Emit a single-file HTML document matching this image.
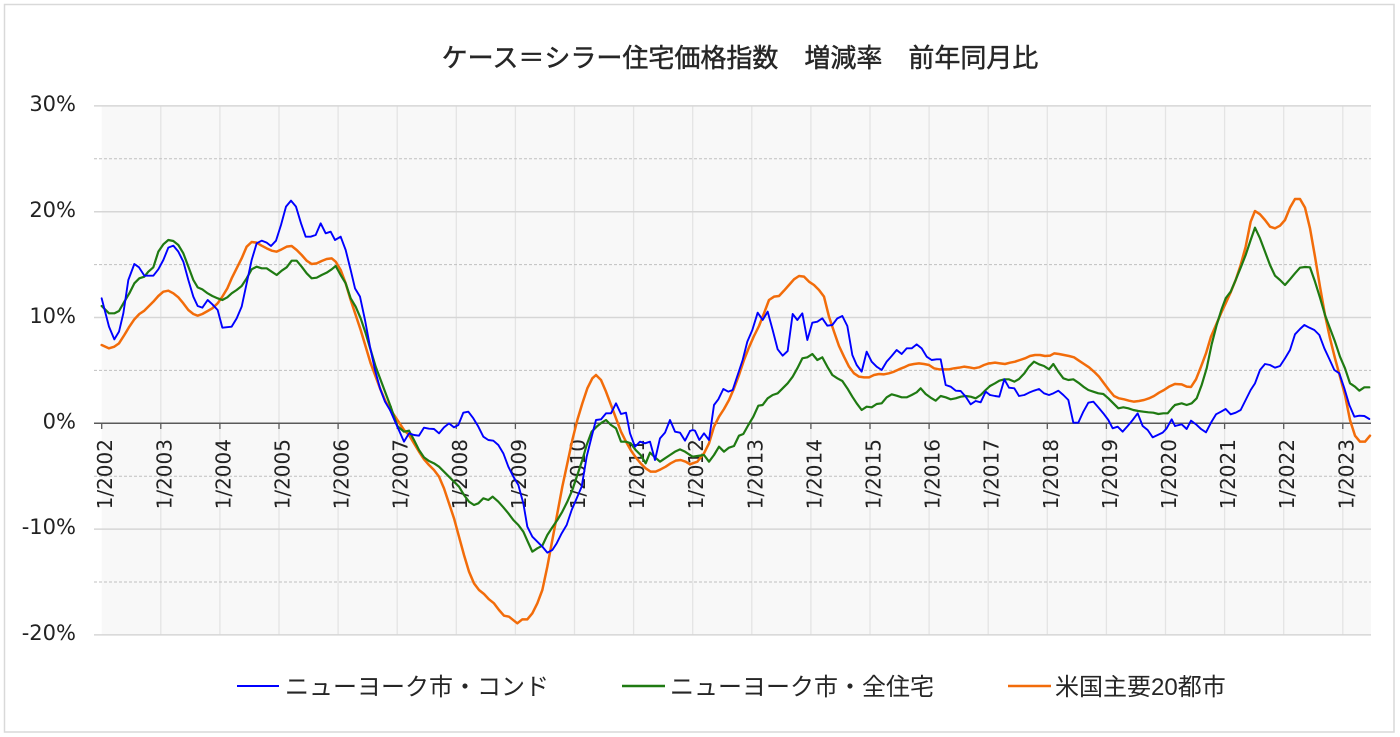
<!DOCTYPE html>
<html><head><meta charset="utf-8"><style>
html,body{margin:0;padding:0;background:#fff;}
svg{display:block;}
.ln{fill:none;stroke-linejoin:round;stroke-linecap:round;}
</style></head><body>
<svg width="1400" height="737" viewBox="0 0 1400 737" xmlns="http://www.w3.org/2000/svg">
<rect x="0" y="0" width="1400" height="737" fill="#fff"/>
<rect x="4.5" y="4.5" width="1389.5" height="727.5" fill="#fff" stroke="#d9d9d9" stroke-width="1.5"/>
<text x="740" y="67" text-anchor="middle" font-family="'Liberation Sans','Noto Sans CJK JP',sans-serif" font-size="26" fill="#262626" stroke="#262626" stroke-width="0.45">ケース＝シラー住宅価格指数　増減率　前年同月比</text>
<!-- plot area -->
<rect x="101.7" y="105.9" width="1269.3" height="529" fill="#f8f8f8"/>
<g stroke="#e4e4e4" stroke-width="1.3">
<line x1="160.8" y1="105.9" x2="160.8" y2="634.9"/><line x1="219.9" y1="105.9" x2="219.9" y2="634.9"/><line x1="279.0" y1="105.9" x2="279.0" y2="634.9"/><line x1="338.1" y1="105.9" x2="338.1" y2="634.9"/><line x1="397.2" y1="105.9" x2="397.2" y2="634.9"/><line x1="456.3" y1="105.9" x2="456.3" y2="634.9"/><line x1="515.4" y1="105.9" x2="515.4" y2="634.9"/><line x1="574.5" y1="105.9" x2="574.5" y2="634.9"/><line x1="633.6" y1="105.9" x2="633.6" y2="634.9"/><line x1="692.7" y1="105.9" x2="692.7" y2="634.9"/><line x1="751.8" y1="105.9" x2="751.8" y2="634.9"/><line x1="810.9" y1="105.9" x2="810.9" y2="634.9"/><line x1="870.0" y1="105.9" x2="870.0" y2="634.9"/><line x1="929.1" y1="105.9" x2="929.1" y2="634.9"/><line x1="988.2" y1="105.9" x2="988.2" y2="634.9"/><line x1="1047.3" y1="105.9" x2="1047.3" y2="634.9"/><line x1="1106.4" y1="105.9" x2="1106.4" y2="634.9"/><line x1="1165.5" y1="105.9" x2="1165.5" y2="634.9"/><line x1="1224.6" y1="105.9" x2="1224.6" y2="634.9"/><line x1="1283.7" y1="105.9" x2="1283.7" y2="634.9"/><line x1="1342.8" y1="105.9" x2="1342.8" y2="634.9"/>
</g>
<g stroke="#c0c0c0" stroke-width="1" stroke-dasharray="3,2">
<line x1="94" y1="158.8" x2="1371" y2="158.8"/><line x1="94" y1="264.6" x2="1371" y2="264.6"/><line x1="94" y1="370.4" x2="1371" y2="370.4"/><line x1="94" y1="476.2" x2="1371" y2="476.2"/><line x1="94" y1="582.0" x2="1371" y2="582.0"/>
</g>
<g stroke="#d6d6d6" stroke-width="1.5">
<line x1="94" y1="105.9" x2="1371" y2="105.9"/><line x1="94" y1="211.7" x2="1371" y2="211.7"/><line x1="94" y1="317.5" x2="1371" y2="317.5"/><line x1="94" y1="529.1" x2="1371" y2="529.1"/><line x1="94" y1="634.9" x2="1371" y2="634.9"/>
</g>
<line x1="94" y1="423.3" x2="1371" y2="423.3" stroke="#5a5a5a" stroke-width="1.5"/>
<g stroke="#5a5a5a" stroke-width="1.3">
<line x1="101.7" y1="423.3" x2="101.7" y2="429"/><line x1="160.8" y1="423.3" x2="160.8" y2="429"/><line x1="219.9" y1="423.3" x2="219.9" y2="429"/><line x1="279.0" y1="423.3" x2="279.0" y2="429"/><line x1="338.1" y1="423.3" x2="338.1" y2="429"/><line x1="397.2" y1="423.3" x2="397.2" y2="429"/><line x1="456.3" y1="423.3" x2="456.3" y2="429"/><line x1="515.4" y1="423.3" x2="515.4" y2="429"/><line x1="574.5" y1="423.3" x2="574.5" y2="429"/><line x1="633.6" y1="423.3" x2="633.6" y2="429"/><line x1="692.7" y1="423.3" x2="692.7" y2="429"/><line x1="751.8" y1="423.3" x2="751.8" y2="429"/><line x1="810.9" y1="423.3" x2="810.9" y2="429"/><line x1="870.0" y1="423.3" x2="870.0" y2="429"/><line x1="929.1" y1="423.3" x2="929.1" y2="429"/><line x1="988.2" y1="423.3" x2="988.2" y2="429"/><line x1="1047.3" y1="423.3" x2="1047.3" y2="429"/><line x1="1106.4" y1="423.3" x2="1106.4" y2="429"/><line x1="1165.5" y1="423.3" x2="1165.5" y2="429"/><line x1="1224.6" y1="423.3" x2="1224.6" y2="429"/><line x1="1283.7" y1="423.3" x2="1283.7" y2="429"/><line x1="1342.8" y1="423.3" x2="1342.8" y2="429"/>
</g>
<!-- y labels -->
<g font-family="'DejaVu Sans','Liberation Sans',sans-serif" font-size="21" fill="#222" text-anchor="end">
<text x="76" y="111">30%</text><text x="76" y="217">20%</text><text x="76" y="323">10%</text><text x="76" y="428.5">0%</text><text x="76" y="534">-10%</text><text x="76" y="640">-20%</text>
</g>
<!-- x labels -->
<g font-family="'DejaVu Sans','Liberation Sans',sans-serif" font-size="20" fill="#222" text-anchor="end">
<text transform="translate(112.2,439) rotate(-90)">1/2002</text>
<text transform="translate(171.3,439) rotate(-90)">1/2003</text>
<text transform="translate(230.4,439) rotate(-90)">1/2004</text>
<text transform="translate(289.5,439) rotate(-90)">1/2005</text>
<text transform="translate(348.6,439) rotate(-90)">1/2006</text>
<text transform="translate(407.7,439) rotate(-90)">1/2007</text>
<text transform="translate(466.8,439) rotate(-90)">1/2008</text>
<text transform="translate(525.9,439) rotate(-90)">1/2009</text>
<text transform="translate(585.0,439) rotate(-90)">1/2010</text>
<text transform="translate(644.1,439) rotate(-90)">1/2011</text>
<text transform="translate(703.2,439) rotate(-90)">1/2012</text>
<text transform="translate(762.3,439) rotate(-90)">1/2013</text>
<text transform="translate(821.4,439) rotate(-90)">1/2014</text>
<text transform="translate(880.5,439) rotate(-90)">1/2015</text>
<text transform="translate(939.6,439) rotate(-90)">1/2016</text>
<text transform="translate(998.7,439) rotate(-90)">1/2017</text>
<text transform="translate(1057.8,439) rotate(-90)">1/2018</text>
<text transform="translate(1116.9,439) rotate(-90)">1/2019</text>
<text transform="translate(1176.0,439) rotate(-90)">1/2020</text>
<text transform="translate(1235.1,439) rotate(-90)">1/2021</text>
<text transform="translate(1294.2,439) rotate(-90)">1/2022</text>
<text transform="translate(1353.3,439) rotate(-90)">1/2023</text>
</g>

<!-- ORANGE -->
<g class="ln" stroke="#f26c0a" stroke-width="2.5">
<g transform="translate(95,180) scale(0.333333)"><polyline class="ln" vector-effect="non-scaling-stroke" points="20,495 42,505 58,500 72,490 88,465 103,440 118,418 133,402 148,392 160,380 175,365 190,348 205,335 220,332 235,340 250,352 265,370 280,390 295,402 308,407 322,402 338,393 352,385 368,370 382,350 397,325 410,295 425,265 440,235 455,200 470,186 485,188 500,197 515,205 530,212 545,215 560,208 575,200 590,198 605,210 620,225 635,242 650,252 665,250 680,243 695,237 710,235 722,245 737,270 752,310 767,360 782,405 797,450 812,500 827,550 842,590 857,630 872,665 887,690"/></g>
<g transform="translate(390,370) scale(0.333333)"><polyline class="ln" vector-effect="non-scaling-stroke" points="2,120 22,150 42,180 57,195 72,220 87,245 102,268 117,285 132,300 147,320 162,355 177,400 192,445 207,500 222,555 237,605 252,640 267,660 282,672 297,688 312,700 327,720 342,737 357,740 372,752 382,760 397,748 412,748 427,730 442,700 457,660 472,590 487,510 502,430 517,350 532,280 547,210 562,150 577,100 592,55 607,25 618,15 633,30 648,65 663,105 678,145 693,185 708,215 722,240 737,262 752,280 767,295 782,305 797,305 812,298 827,290 842,280 857,272 872,270 887,275 900,283"/></g>
<g transform="translate(690,260) scale(0.333333)"><polyline class="ln" vector-effect="non-scaling-stroke" points="0,613 8,610 22,605 42,580 57,550 72,500 87,470 102,447 117,420 132,385 147,345 162,300 177,262 192,228 207,198 222,160 237,120 252,110 267,108 282,92 297,75 312,58 327,48 342,50 357,65 372,75 387,90 402,110 417,170 432,215 447,258 462,290 477,320 492,340 507,350 522,352 537,352 552,345 567,342 582,343 597,340 612,335 627,328 642,322 657,315 672,312 687,310 702,312 717,315 732,325 747,328 762,328 777,328 792,325 807,323 822,320 837,322 852,325 867,322 882,315 897,310 900,310"/></g>
<g transform="translate(985,320) scale(0.333333)"><polyline class="ln" vector-effect="non-scaling-stroke" points="15,130 30,128 45,130 60,132 75,128 90,125 105,120 120,115 135,108 150,105 165,105 180,108 195,107 208,100 222,102 237,105 252,108 267,112 282,122 297,132 312,142 327,155 342,170 357,190 372,210 387,228 402,235 417,238 432,242 447,245 462,243 477,240 492,235 507,228 522,218 537,210 552,200 567,193 570,192"/></g>
<g transform="translate(1175,185) scale(0.333333)"><polyline class="ln" vector-effect="non-scaling-stroke" points="0,597 20,598 35,605 48,606 63,583 78,545 93,505 108,455 123,420 138,385 152,355 167,322 182,285 197,240 212,185 227,110 240,78 255,88 270,105 285,125 300,130 315,122 330,105 345,68 360,42 375,42 390,68 405,130 420,215 435,305 450,390 465,460 480,520 495,575 510,630 525,705 540,752 555,770 570,770 585,752"/></g>
</g>

<!-- GREEN -->
<g class="ln" stroke="#1f7a12" stroke-width="2.2">
<g transform="translate(95,180) scale(0.333333)"><polyline class="ln" vector-effect="non-scaling-stroke" points="20,378 42,400 58,400 72,393 88,365 103,340 118,310 133,295 148,290 160,275 175,262 190,215 205,193 220,180 235,183 250,195 265,220 280,260 295,300 308,322 322,328 338,340 352,348 368,355 382,360 397,352 410,340 425,330 440,318 455,295 470,268 485,260 500,265 515,265 530,275 545,285 560,272 575,262 590,242 605,242 620,260 635,280 650,295 665,293 680,285 695,278 710,268 722,258 737,285 752,310 767,355 782,380 797,415 812,460 827,510 842,560 857,600 872,640 887,680"/></g>
<g transform="translate(390,370) scale(0.333333)"><polyline class="ln" vector-effect="non-scaling-stroke" points="2,110 22,168 42,185 57,182 72,210 87,240 102,262 117,273 132,280 147,290 162,305 177,320 192,335 207,350 222,375 237,395 252,405 265,400 280,385 295,390 308,380 325,395 340,412 355,430 370,450 385,465 400,485 412,512 427,545 442,535 457,527 472,495 487,472 502,450 517,425 532,395 547,360 562,315 577,270 590,225 605,185 620,170 635,158 648,150 663,165 678,175 693,215 708,215 722,220 737,240 752,255 767,280 780,248 795,262 810,275 825,265 840,255 855,245 870,238 885,245 900,255"/></g>
<g transform="translate(690,260) scale(0.333333)"><polyline class="ln" vector-effect="non-scaling-stroke" points="0,585 8,590 22,588 42,585 57,605 72,585 87,560 102,575 117,563 132,558 147,527 160,522 175,495 190,470 205,437 218,435 233,415 248,405 263,400 278,385 293,370 308,350 322,325 337,295 352,292 367,282 382,300 397,292 412,320 427,345 442,355 457,363 472,385 487,410 500,430 515,450 530,440 545,442 560,432 575,430 590,412 605,403 620,407 635,412 650,412 665,405 680,397 692,385 707,402 722,413 737,422 752,408 767,412 782,418 797,415 812,410 827,408 842,410 857,415 872,405 887,390 900,378"/></g>
<g transform="translate(985,320) scale(0.333333)"><polyline class="ln" vector-effect="non-scaling-stroke" points="15,198 30,190 43,182 58,178 72,178 88,185 102,177 118,160 132,140 147,125 162,133 177,138 192,148 205,132 220,155 235,175 250,180 265,178 280,188 295,200 310,210 325,215 340,220 355,222 370,235 385,250 400,265 415,262 430,265 445,270 460,273 475,275 490,277 505,278 520,282 535,280 548,280 563,262 570,255"/></g>
<g transform="translate(1175,185) scale(0.333333)"><polyline class="ln" vector-effect="non-scaling-stroke" points="0,660 20,655 35,660 50,655 65,640 80,600 95,550 110,478 125,420 140,372 152,340 167,320 182,285 197,248 212,210 227,165 240,128 255,160 270,200 285,240 300,272 315,285 330,300 345,283 360,265 375,248 390,246 405,247 420,290 435,338 450,390 465,430 480,470 495,515 510,550 525,595 540,605 553,617 568,607 583,607"/></g>
</g>

<!-- BLUE -->
<g class="ln" stroke="#0000ff" stroke-width="1.9">
<g transform="translate(95,180) scale(0.333333)"><polyline class="ln" vector-effect="non-scaling-stroke" points="20,355 42,440 58,478 72,455 85,400 100,300 118,252 132,262 148,287 160,287 175,287 190,268 205,240 220,203 235,197 250,215 265,245 280,300 295,350 308,378 322,383 338,360 352,373 368,390 382,443 410,440 425,415 440,380 455,310 470,240 485,190 500,182 515,188 528,198 543,182 558,135 573,80 588,62 603,80 618,130 632,170 647,170 662,165 677,130 692,160 707,155 720,180 737,170 752,210 767,270 780,325 795,350 810,420 825,500 840,570 855,625 870,665 885,690"/></g>
<g transform="translate(390,370) scale(0.333333)"><polyline class="ln" vector-effect="non-scaling-stroke" points="0,120 22,170 42,215 57,190 72,195 87,197 102,173 117,176 132,177 147,190 162,172 177,160 192,172 205,165 220,128 235,125 250,145 265,170 280,200 295,210 310,212 325,225 340,250 355,290 370,320 385,345 400,400 412,470 427,500 442,515 457,530 472,548 487,540 500,520 515,490 530,465 545,420 560,385 575,350 590,260 605,200 618,150 633,148 648,130 663,130 678,100 693,132 708,128 720,190 735,230 750,215 765,220 780,215 795,270 810,205 825,188 840,150 855,185 870,188 885,212 900,183"/></g>
<g transform="translate(690,260) scale(0.333333)"><polyline class="ln" vector-effect="non-scaling-stroke" points="0,513 8,510 15,512 28,540 42,520 57,540 72,435 85,418 100,387 115,395 128,390 143,345 158,300 172,245 187,210 203,158 218,180 233,155 248,210 263,268 278,287 293,273 308,162 322,180 337,160 352,240 367,188 382,185 397,175 412,197 427,195 442,175 457,168 472,198 487,285 500,315 515,335 530,275 545,305 560,320 575,330 590,305 605,288 620,270 635,282 650,265 665,265 680,253 695,265 710,290 725,300 740,298 752,298 767,375 782,380 797,392 812,393 827,410 842,433 857,423 872,427 887,395 900,405"/></g>
<g transform="translate(985,320) scale(0.333333)"><polyline class="ln" vector-effect="non-scaling-stroke" points="15,225 30,228 43,230 58,178 72,203 88,205 102,228 118,225 132,218 147,212 162,207 177,220 192,225 205,220 220,212 235,225 250,240 265,308 280,308 295,275 310,248 325,245 340,262 355,280 370,300 383,325 398,320 413,335 428,318 443,300 458,280 473,318 488,330 503,352 518,345 533,338 545,325 560,298 570,318"/></g>
<g transform="translate(1175,185) scale(0.333333)"><polyline class="ln" vector-effect="non-scaling-stroke" points="0,723 20,718 35,732 48,707 63,718 78,732 93,742 108,713 123,688 138,680 152,672 167,688 182,683 197,675 212,645 227,615 240,595 255,555 270,537 285,540 300,548 315,543 330,520 345,495 360,448 375,432 388,420 403,428 418,435 433,450 448,490 463,522 478,555 493,565 508,610 523,660 538,695 553,692 568,693 583,702"/></g>
</g>

<!-- legend -->
<line x1="237" y1="686" x2="279" y2="686" stroke="#0000ff" stroke-width="2"/>
<line x1="622" y1="686" x2="665" y2="686" stroke="#1f7a12" stroke-width="2.4"/>
<line x1="1008" y1="686" x2="1051" y2="686" stroke="#f26c0a" stroke-width="2.6"/>
<g font-family="'Liberation Sans','Noto Sans CJK JP',sans-serif" font-size="24" fill="#262626">
<text x="285" y="695">ニューヨーク市・コンド</text>
<text x="670" y="695">ニューヨーク市・全住宅</text>
<text x="1055" y="695">米国主要20都市</text>
</g>
</svg>
</body></html>
